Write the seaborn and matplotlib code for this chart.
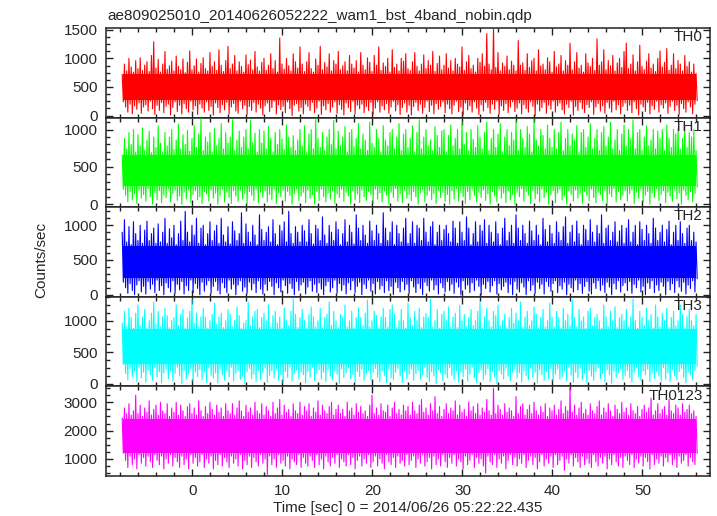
import numpy as np
import pandas as pd
import matplotlib
matplotlib.use("Agg")
import matplotlib.pyplot as plt
from matplotlib.ticker import MultipleLocator
import seaborn as sns

# ---------------- data ----------------
title = "ae809025010_20140626052222_wam1_bst_4band_nobin.qdp"
xlabel = "Time [sec] 0 = 2014/06/26 05:22:22.435"
ylabel = "Counts/sec"
bands = ["TH0", "TH1", "TH2", "TH3", "TH0123"]
colors = ["#ff0000", "#00ff00", "#0000ff", "#00ffff", "#ff00ff"]

t_start = -7.8      # first sample time [s]
step = 0.25         # spacing of the peak/trough samples [s]

# local maxima of the light curves, one per quarter second
TH0_hi = [720, 900, 780, 1000, 850, 760, 960, 820, 1010, 790, 880, 940, 770, 1050, 1290, 830,
          980, 760, 900, 1120, 810, 870, 950, 780, 1040, 860, 800, 990, 750, 930, 1130, 800,
          870, 990, 760, 910, 1010, 820, 780, 1100, 860, 940, 790, 1150, 880, 770, 960, 1210,
          820, 900, 1050, 780, 940, 860, 760, 1060, 890, 970, 800, 1120, 850, 780, 930, 1000,
          790, 880, 1080, 820, 960, 760, 1355, 900, 810, 1000, 870, 780, 1080, 940, 830, 1200,
          900, 770, 940, 1100, 820, 760, 990, 880, 1210, 800, 930, 850, 1080, 780, 960, 900,
          1120, 800, 870, 940, 780, 1050, 900, 830, 960, 760, 1100, 880, 800, 1010, 930, 770,
          1050, 880, 1200, 790, 920, 860, 1000, 760, 1150, 840, 900, 780, 1000, 950, 1080, 820,
          790, 940, 1100, 860, 780, 900, 1060, 820, 960, 880, 1120, 770, 910, 1040, 800, 880,
          1080, 830, 960, 780, 1000, 900, 850, 1200, 790, 940, 1050, 820, 880, 760, 1000, 930,
          1080, 860, 1430, 900, 800, 1520, 840, 1100, 780, 920, 860, 1040, 800, 950, 880, 780,
          1310, 880, 920, 790, 1080, 840, 960, 1000, 780, 1150, 870, 900, 800, 1010, 940, 760,
          1120, 850, 900, 1050, 780, 960, 880, 1264, 800, 940, 1100, 830, 880, 760, 1080, 920,
          860, 1000, 790, 1340, 880, 940, 1150, 800, 960, 870, 1050, 780, 920, 1000, 840, 1120,
          1264, 820, 900, 1060, 780, 940, 1230, 860, 800, 950, 1080, 830, 900, 770, 1000, 1130,
          850, 930, 1170, 790, 880, 1080, 820, 960, 900, 780, 1050, 860, 940, 760, 900, 740]
TH1_hi = [660, 880, 740, 960, 800, 1000, 700, 930, 780, 1020, 720, 860, 980, 690, 900, 760,
          1050, 820, 700, 960, 780, 900, 1000, 730, 860, 1070, 740, 930, 800, 990, 710, 880,
          1050, 760, 940, 1150, 720, 900, 830, 960, 700, 1010, 780, 880, 1080, 740, 960, 820,
          900, 1130, 720, 860, 980, 760, 900, 1000, 740, 1120, 830, 950, 700, 1000, 820, 980,
          740, 1040, 880, 700, 960, 800, 1000, 870, 730, 1060, 900, 760, 920, 720, 860, 1000,
          780, 1050, 700, 940, 1000, 740, 1150, 880, 760, 960, 720, 900, 1000, 800, 1120, 740,
          980, 780, 900, 1040, 700, 960, 1000, 770, 880, 1080, 740, 940, 860, 720, 1100, 820,
          760, 1000, 880, 700, 1050, 860, 780, 960, 1000, 740, 900, 1080, 720, 940, 1000, 760,
          880, 1050, 700, 960, 1130, 740, 900, 1000, 780, 860, 720, 1040, 920, 760, 980, 1000,
          700, 920, 1060, 780, 880, 1000, 740, 1100, 800, 960, 720, 1000, 870, 760, 1050, 900,
          740, 960, 1100, 720, 880, 1000, 760, 940, 1080, 700, 900, 1000, 780, 960, 860, 1120,
          720, 1000, 880, 760, 1040, 940, 700, 1130, 860, 780, 1000, 920, 740, 1060, 880, 760,
          1000, 740, 960, 1100, 720, 880, 1000, 780, 940, 860, 1050, 700, 960, 1000, 760, 900,
          1080, 740, 880, 1000, 720, 960, 1040, 780, 900, 1100, 740, 860, 1000, 720, 940, 1060,
          780, 1000, 880, 1130, 740, 960, 1000, 720, 900, 1050, 780, 860, 1000, 740, 980, 880,
          1000, 720, 1060, 880, 760, 1000, 940, 1020, 740, 880, 1050, 760, 960, 900, 1000, 720]
TH2_hi = [900, 1080, 760, 980, 720, 1050, 880, 780, 1000, 740, 930, 1060, 780, 880, 960, 740,
          1020, 760, 900, 1100, 740, 950, 820, 1000, 720, 880, 1060, 780, 1200, 900, 760, 1000,
          860, 1100, 740, 960, 1000, 720, 880, 1050, 780, 920, 1000, 740, 1100, 860, 760, 980,
          730, 1050, 920, 780, 880, 1180, 740, 1020, 900, 760, 1000, 860, 720, 1150, 940, 780,
          900, 980, 760, 1080, 880, 720, 1000, 920, 1050, 760, 1200, 880, 740, 980, 900, 760,
          1000, 920, 760, 1080, 880, 730, 1000, 950, 780, 1120, 860, 740, 1000, 900, 780, 1050,
          940, 720, 880, 1080, 760, 1000, 900, 730, 1150, 960, 780, 1000, 860, 740, 1060, 920,
          780, 1000, 880, 740, 1180, 960, 780, 900, 1050, 720, 1000, 880, 760, 960, 1100, 740,
          880, 1050, 740, 1000, 960, 780, 1100, 900, 760, 980, 1050, 720, 900, 1000, 780, 940,
          1000, 880, 760, 1060, 960, 740, 1050, 900, 780, 1120, 960, 720, 880, 1050, 760, 1000,
          920, 1080, 740, 1000, 900, 760, 1050, 880, 720, 960, 1100, 780, 900, 1000, 740, 1150,
          960, 780, 1000, 880, 740, 1060, 920, 780, 1000, 860, 720, 1100, 940, 760, 1000, 880,
          740, 1050, 900, 780, 980, 1120, 740, 900, 1000, 760, 1060, 880, 720, 1000, 940, 780,
          1080, 900, 760, 1000, 880, 1150, 740, 960, 1000, 780, 900, 1050, 760, 920, 1000, 740,
          960, 1080, 760, 900, 1000, 720, 1050, 940, 780, 1000, 880, 740, 1100, 960, 780, 900,
          1000, 760, 940, 1060, 720, 900, 1000, 780, 1050, 880, 740, 960, 1000, 780, 900, 760]
TH3_hi = [960, 1150, 900, 1200, 1050, 880, 1120, 1250, 920, 1050, 1180, 880, 1000, 1120, 1300, 940,
          1150, 900, 1060, 1200, 1080, 890, 1000, 1050, 1250, 920, 1100, 1180, 880, 1040, 1150, 1340,
          960, 1120, 900, 1060, 1200, 1050, 880, 1000, 1100, 1280, 940, 1060, 1120, 890, 1000, 1180,
          1100, 900, 1000, 1220, 1080, 880, 960, 1000, 1300, 920, 1060, 1150, 1180, 890, 1050, 1120,
          1000, 1250, 900, 1080, 1150, 960, 1060, 880, 1200, 1000, 920, 1150, 1350, 1100, 890, 1050,
          1180, 1000, 880, 1100, 1220, 1060, 900, 1000, 1200, 880, 1050, 1100, 1300, 920, 1150, 1000,
          890, 1100, 1060, 1250, 900, 1000, 1150, 880, 1050, 1200, 1050, 920, 1120, 1330, 900, 1000,
          1150, 1080, 880, 1060, 1200, 1050, 900, 1180, 1250, 1100, 890, 1000, 1180, 1000, 880, 1280,
          1050, 920, 1150, 1000, 1200, 890, 1060, 1120, 1050, 1340, 900, 1000, 1180, 880, 1100, 1150,
          1000, 1220, 900, 1060, 1120, 890, 1250, 1000, 1100, 900, 1050, 1180, 920, 1000, 1150, 1300,
          880, 1060, 1200, 1000, 900, 1150, 1080, 1250, 920, 1000, 1100, 880, 1050, 1200, 960, 1120,
          1000, 1300, 890, 1060, 1150, 920, 1000, 1220, 1100, 880, 1050, 1180, 900, 1000, 1280, 1060,
          900, 1150, 1050, 880, 1200, 1000, 1100, 920, 1330, 1050, 900, 1180, 1000, 1060, 880, 1150,
          1200, 920, 1050, 1100, 1000, 880, 1250, 1060, 900, 1150, 1000, 1220, 890, 1050, 1100, 1000,
          1180, 900, 1060, 1340, 1000, 880, 1150, 1050, 920, 1200, 1000, 1100, 880, 1250, 1060, 900,
          1120, 1000, 1200, 890, 1050, 1150, 920, 1000, 1250, 1100, 880, 1060, 1180, 1000, 920, 1100]
TH0123_hi = [2450, 2800, 2600, 2950, 2550, 2700, 3250, 2600, 2900, 2500, 2800, 2650, 3050, 2550, 2750, 2900,
             2550, 3000, 2700, 2600, 2950, 2500, 2800, 2650, 3000, 2550, 2900, 2700, 2500, 2850, 2950, 2600,
             2800, 2550, 3050, 2700, 2500, 2850, 2600, 3000, 2750, 2550, 2900, 2650, 2800, 2500, 2950, 2700,
             2600, 2950, 2550, 2800, 3050, 2700, 2500, 2900, 2650, 2800, 2550, 3000, 2700, 2600, 2950, 2550,
             2850, 2700, 2500, 3000, 2600, 2800, 3100, 2550, 2900, 2650, 2750, 2500, 2950, 2700, 2600, 3000,
             2550, 2850, 2700, 2950, 2500, 2800, 2650, 3050, 2550, 2900, 2700, 2600, 2850, 3000, 2550, 2750,
             2900, 2600, 2750, 2500, 3000, 2700, 2800, 2550, 2950, 2650, 2850, 2600, 2700, 2500, 2900, 3250,
             2600, 2800, 2550, 2950, 2700, 2650, 2900, 2500, 2800, 3000, 2600, 2750, 2550, 2900, 2700, 2850,
             2550, 3000, 2700, 2600, 2900, 3100, 2650, 2800, 2550, 2950, 2700, 3200, 2600, 2850, 2500, 2750,
             2950, 2600, 2800, 2700, 3050, 2550, 2900, 2650, 2750, 2500, 3000, 2700, 2850, 2600, 2950, 2550,
             2800, 2650, 3100, 2700, 2550, 3500, 2600, 2900, 2750, 2550, 2950, 2650, 2800, 2700, 2500, 3200,
             2600, 2850, 2950, 2550, 2750, 2900, 2600, 3000, 2700, 2550, 2850, 2650, 2950, 2500, 2800, 2700,
             2900, 2550, 2750, 3050, 2600, 2850, 2700, 3500, 2650, 2900, 2550, 2800, 3000, 2600, 2750, 2550,
             2950, 2700, 2600, 2850, 3050, 2550, 2800, 2650, 2950, 2700, 2500, 2900, 2750, 2600, 3000, 2650,
             2800, 2550, 2950, 2700, 2600, 2850, 2500, 2750, 2900, 2650, 2800, 3150, 2550, 2700, 2950, 2600,
             2750, 2850, 2550, 3100, 2700, 2600, 2900, 2800, 2550, 2950, 2650, 2750, 2900, 2600, 2700, 2500]

# local minima, one per quarter second (an eighth of a second after each maximum)
TH0_lo = [240, 150, 60, 200, 30, 170, 110, 220, 40, 150, 190, 80, 250, 120, 20, 180,
          90, 230, 50, 160, 200, 10, 140, 240, 70, 180, 30, 210, 120, 60, 250, 100,
          170, 20, 200, 130, 60, 240, 90, 160, 10, 220, 140, 50, 190, 100, 230, 30,
          150, 210, 80, 40, 250, 120, 180, 20, 160, 90, 230, 60, 200, 130, 10, 170,
          220, 70, 140, 250, 30, 190, 100, 160, 50, 240, 120, 0, 180, 210, 80, 140,
          30, 200, 160, 90, 230, 50, 130, 250, 20, 170, 100, 210, 60, 150, 240, 40,
          190, 110, 10, 220, 140, 70, 250, 30, 180, 120, 200, 50, 160, 90, 230, 20,
          130, 240, 60, 170, 100, 210, 40, 150, 250, 80, 190, 20, 140, 220, 60, 180,
          10, 160, 230, 90, 200, 40, 140, 250, 70, 180, 30, 210, 110, 160, 240, 50,
          200, 120, 30, 180, 250, 70, 150, 10, 220, 100, 170, 60, 240, 130, 20, 190,
          80, 230, 140, 40, 200, 110, 250, 20, 170, 90, 210, 50, 150, 240, 70, 130,
          220, 30, 190, 120, 60, 240, 160, 0, 200, 80, 140, 230, 40, 180, 110, 250,
          60, 170, 220, 100, 30, 200, 140, 250, 10, 160, 90, 230, 120, 50, 190, 140,
          240, 20, 150, 210, 80, 170, 40, 230, 130, 60, 250, 100, 190, 30, 160, 220,
          90, 180, 50, 240, 120, 10, 200, 150, 70, 230, 30, 170, 110, 250, 60, 190,
          130, 220, 40, 160, 250, 90, 180, 20, 210, 120, 60, 240, 150, 30, 200, 260]
TH1_lo = [200, 120, 30, 170, 60, 140, 10, 190, 80, 130, 40, 210, 100, 0, 150, 60,
          180, 20, 120, 90, 210, 30, 140, 190, 50, 110, 0, 160, 70, 200, 20, 130,
          180, 60, 100, 10, 170, 140, 40, 190, 80, 150, 0, 120, 200, 30, 160, 90,
          10, 180, 110, 40, 190, 70, 140, 0, 170, 120, 50, 200, 20, 160, 90, 180,
          30, 130, 60, 200, 10, 150, 100, 190, 40, 170, 120, 0, 140, 210, 50, 110,
          160, 20, 190, 80, 130, 0, 170, 50, 200, 100, 30, 150, 70, 180, 10, 140,
          90, 200, 40, 160, 110, 0, 180, 60, 140, 20, 190, 100, 50, 170, 130, 10,
          200, 70, 150, 30, 180, 120, 0, 160, 90, 210, 40, 140, 20, 190, 80, 130,
          50, 170, 100, 0, 150, 200, 30, 120, 180, 60, 140, 10, 190, 90, 160, 40,
          130, 0, 180, 70, 210, 40, 150, 100, 10, 170, 60, 200, 120, 30, 160, 90,
          190, 50, 140, 0, 170, 110, 30, 200, 80, 150, 20, 180, 60, 130, 0, 160,
          100, 210, 40, 170, 120, 10, 190, 70, 140, 30, 200, 90, 160, 0, 130, 180,
          20, 150, 200, 60, 110, 0, 180, 130, 40, 190, 80, 150, 10, 170, 120, 50,
          200, 90, 20, 160, 130, 50, 190, 0, 140, 100, 210, 30, 170, 60, 120, 180,
          40, 140, 190, 10, 160, 80, 200, 30, 120, 170, 0, 150, 90, 210, 50, 130,
          180, 20, 160, 110, 40, 200, 70, 150, 0, 190, 120, 60, 170, 30, 140, 230]
TH2_lo = [180, 100, 20, 160, 60, 0, 140, 200, 40, 120, 10, 190, 80, 150, 30, 210,
          60, 130, 0, 170, 100, 40, 200, 20, 150, 70, 190, 10, 130, 60, 210, 30,
          160, 90, 0, 180, 50, 140, 200, 20, 120, 190, 60, 10, 170, 100, 30, 210,
          80, 150, 0, 140, 200, 50, 110, 20, 180, 70, 160, 30, 200, 80, 10, 150,
          60, 190, 120, 0, 170, 100, 40, 210, 130, 20, 160, 90, 0, 190, 60, 140,
          180, 10, 110, 200, 50, 150, 30, 170, 80, 0, 130, 190, 40, 100, 210, 20,
          160, 60, 140, 10, 170, 70, 200, 30, 120, 180, 0, 150, 90, 210, 50, 160,
          10, 190, 80, 130, 30, 200, 60, 120, 0, 180, 100, 40, 190, 70, 150, 20,
          200, 110, 30, 160, 90, 0, 180, 130, 50, 210, 70, 140, 10, 170, 100, 40,
          190, 60, 150, 20, 180, 110, 0, 200, 80, 140, 30, 170, 60, 210, 120, 0,
          150, 90, 190, 40, 130, 200, 10, 160, 70, 120, 180, 30, 150, 0, 190, 80,
          40, 170, 110, 0, 200, 60, 140, 20, 180, 90, 150, 10, 190, 120, 50, 160,
          200, 30, 130, 80, 180, 0, 150, 100, 40, 210, 70, 160, 20, 120, 190, 50,
          10, 170, 90, 200, 60, 140, 30, 180, 110, 0, 160, 80, 200, 40, 130, 170,
          60, 190, 20, 150, 100, 210, 40, 120, 0, 170, 90, 200, 30, 140, 60, 180,
          120, 0, 190, 70, 160, 30, 200, 110, 50, 180, 10, 140, 90, 200, 40, 230]
TH3_lo = [300, 160, 60, 240, 110, 200, 30, 260, 90, 180, 20, 220, 140, 50, 250, 100,
          190, 10, 170, 230, 80, 200, 40, 160, 260, 120, 0, 210, 70, 150, 240, 30,
          180, 110, 220, 60, 190, 20, 250, 130, 90, 170, 10, 230, 140, 50, 200, 100,
          260, 40, 160, 200, 70, 120, 0, 190, 240, 80, 150, 30, 210, 60, 170, 250,
          20, 130, 200, 90, 230, 50, 140, 10, 190, 100, 260, 40, 160, 220, 70, 180,
          140, 10, 190, 100, 260, 40, 160, 220, 70, 180, 30, 240, 120, 60, 200, 150,
          0, 230, 90, 170, 250, 80, 140, 20, 190, 110, 230, 50, 160, 210, 60, 180,
          240, 100, 30, 200, 130, 10, 220, 90, 60, 180, 240, 120, 20, 190, 80, 150,
          230, 50, 160, 210, 70, 140, 260, 100, 30, 190, 120, 0, 220, 170, 40, 150,
          90, 250, 130, 60, 200, 20, 180, 110, 230, 40, 150, 260, 90, 10, 170, 220,
          60, 140, 240, 30, 190, 100, 0, 210, 150, 70, 250, 120, 40, 180, 230, 90,
          170, 20, 200, 130, 60, 250, 100, 180, 10, 220, 140, 50, 190, 80, 240, 30,
          150, 230, 70, 110, 200, 40, 260, 130, 20, 180, 90, 240, 60, 160, 10, 210,
          120, 50, 190, 250, 80, 160, 30, 220, 140, 0, 200, 100, 170, 240, 60, 130,
          210, 90, 20, 180, 260, 110, 50, 200, 140, 230, 30, 160, 80, 190, 120, 40,
          250, 70, 170, 30, 220, 130, 60, 190, 240, 100, 10, 180, 140, 60, 210, 280]
TH0123_lo = [1200, 950, 700, 1100, 800, 1000, 650, 1150, 850, 1050, 750, 1100, 900, 700, 1150, 950,
             800, 1100, 650, 1000, 850, 1150, 750, 1050, 900, 700, 1100, 800, 1000, 650, 1150, 850,
             1050, 750, 900, 1150, 700, 1000, 850, 1100, 650, 950, 800, 1150, 750, 1050, 900, 700,
             1100, 850, 1000, 750, 1150, 650, 950, 800, 1100, 700, 1050, 900, 750, 1150, 850, 1000,
             450, 1100, 800, 1000, 700, 1150, 850, 950, 750, 1100, 650, 1000, 900, 800, 1150, 700,
             1050, 850, 750, 1100, 950, 700, 1150, 800, 1000, 650, 1100, 900, 750, 1050, 850, 1150,
             700, 1000, 900, 750, 1150, 800, 1050, 650, 950, 1100, 750, 1000, 850, 1150, 700, 900,
             1100, 750, 1000, 850, 650, 1150, 900, 800, 1050, 700, 1100, 850, 950, 750, 1150, 800,
             950, 1100, 700, 1000, 850, 1150, 750, 900, 1050, 650, 1100, 800, 1000, 750, 1150, 900,
             700, 1050, 850, 1150, 750, 1000, 900, 650, 1100, 800, 950, 1150, 700, 1050, 850, 1000,
             750, 500, 1100, 900, 800, 1150, 700, 1000, 850, 1100, 650, 950, 1150, 800, 1050, 750,
             1000, 850, 1150, 700, 950, 1100, 800, 1050, 650, 900, 1150, 750, 1000, 850, 1100, 700,
             1150, 800, 950, 1100, 600, 1000, 850, 1150, 750, 1050, 900, 700, 1100, 800, 1000, 850,
             700, 1150, 900, 750, 1050, 850, 1100, 650, 1000, 800, 1150, 900, 750, 1050, 700, 1100,
             950, 800, 1150, 700, 1000, 850, 1100, 750, 1050, 900, 650, 1150, 800, 1000, 850, 1100,
             750, 1050, 900, 1150, 800, 1000, 700, 1100, 850, 950, 1150, 750, 1050, 900, 800, 1200]

# fully saturated core of each light curve
core_lo = [270, 240, 240, 310, 1220]
core_hi = [720, 660, 700, 860, 2420]

his = [TH0_hi, TH1_hi, TH2_hi, TH3_hi, TH0123_hi]
los = [TH0_lo, TH1_lo, TH2_lo, TH3_lo, TH0123_lo]

ylims = [(-35, 1530), (-40, 1160), (-30, 1260), (-45, 1380), (400, 3560)]
yticks = [[0, 500, 1000, 1500], [0, 500, 1000], [0, 500, 1000],
          [0, 500, 1000], [1000, 2000, 3000]]
yminor = [125, 100, 100, 125, 250]

# ---------------- figure ----------------
sns.set_style("ticks")
plt.rcParams["font.family"] = ["Liberation Sans", "DejaVu Sans"]

W, H = 717, 516
fig, axes = plt.subplots(5, 1, figsize=(W / 100, H / 100), dpi=100, sharex=True)
fig.subplots_adjust(left=106 / W, right=710 / W, top=1 - 28 / H,
                    bottom=1 - 476 / H, hspace=0)

for i, ax in enumerate(axes):
    n = min(len(his[i]), len(los[i]))
    hi = np.asarray(his[i][:n], dtype=float)
    lo = np.asarray(los[i][:n], dtype=float)
    t_hi = t_start + step * np.arange(n)
    t_lo = t_hi + step / 2
    xs = np.empty(2 * n)
    ys = np.empty(2 * n)
    xs[0::2], xs[1::2] = t_hi, t_lo
    ys[0::2], ys[1::2] = hi, lo
    df = pd.DataFrame({"t": xs, "rate": ys})

    ax.fill_between([xs[0] + 0.1, xs[-1] - 0.1], core_lo[i], core_hi[i],
                    color=colors[i], lw=0, zorder=2)
    sns.lineplot(data=df, x="t", y="rate", ax=ax, color=colors[i],
                 lw=0.8, sort=False, estimator=None, zorder=3)

    ax.set_xlim(-9.6, 57.5)
    ax.set_ylim(*ylims[i])
    ax.set_yticks(yticks[i])
    ax.yaxis.set_minor_locator(MultipleLocator(yminor[i]))
    ax.xaxis.set_major_locator(MultipleLocator(10))
    ax.xaxis.set_minor_locator(MultipleLocator(2))
    ax.tick_params(which="both", direction="in", top=True, right=True,
                   width=1.0, color="#222222", labelsize=11, pad=6)
    ax.tick_params(which="major", length=5)
    ax.tick_params(which="minor", length=2.6)
    for sp in ax.spines.values():
        sp.set_linewidth(1.1)
        sp.set_color("#222222")
        sp.set_visible(True)
    ax.set_xlabel("")
    ax.set_ylabel("")
    ax.text(0.988, 0.975, bands[i], transform=ax.transAxes, ha="right",
            va="top", fontsize=11, zorder=5)

fig.text(107 / W, 1 - 20 / H, title, ha="left", va="baseline", fontsize=11)
fig.text(408 / W, 1 - 512 / H, xlabel, ha="center", va="baseline", fontsize=11)
fig.text(41 / W, 1 - 260 / H, ylabel, rotation=90, ha="center", va="center",
         fontsize=11)

fig.savefig("out.png", dpi=100)
